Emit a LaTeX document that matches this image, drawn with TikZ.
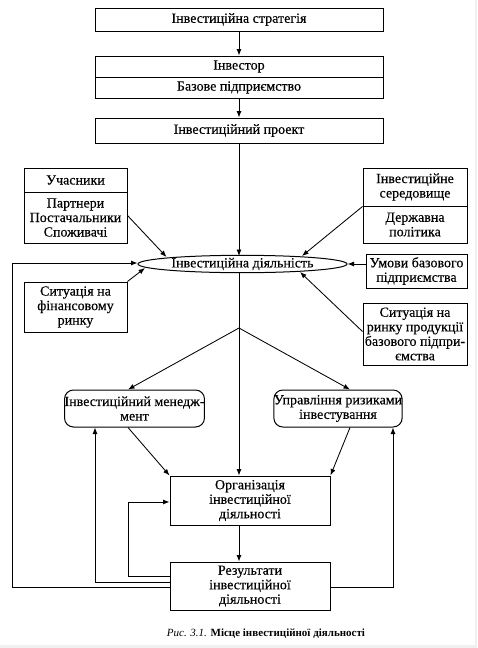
\documentclass[tikz,border=0pt]{standalone}
\usepackage{fontspec}
\setmainfont{Liberation Serif}
\newfontfamily\boxfont{Liberation Serif}[FakeBold=0.35]
\usetikzlibrary{arrows.meta,shapes.geometric,calc}
\begin{document}
\begin{tikzpicture}[x=1pt,y=-1pt,
  every node/.style={font=\boxfont\fontsize{14}{14.5}\selectfont, align=center, inner sep=0pt},
  box/.style={draw, line width=1pt, rectangle},
  rbox/.style={draw, line width=1pt, rectangle, rounded corners=9pt},
  arr/.style={-{Latex[length=6.5pt,width=5pt]}, line width=0.85pt},
  capstyle/.style={font=\fontsize{11}{12}\selectfont}]
\useasboundingbox (0,0) rectangle (477,648);
\fill[gray!12] (474.5,0) rectangle (477,648);
\fill[gray!12] (0,644.5) rectangle (477,648);

\node[box, minimum width=288, minimum height=23] (strat) at (239,19.5) {Інвестиційна стратегія};
\node[box, minimum width=288, minimum height=21] (inv1) at (239,66.5) {Інвестор};
\node[box, minimum width=288, minimum height=21] (inv2) at (239,87.5) {Базове підприємство};
\node[box, minimum width=288, minimum height=25] (proj) at (239,130.5) {Інвестиційний проект};

\node[box, minimum width=103, minimum height=24] (uch1) at (75.5,180) {Учасники};
\node[box, minimum width=103, minimum height=51] (uch2) at (75.5,217.5) {Партнери\\Постачальники\\Споживачі};
\node[box, minimum width=104, minimum height=38] (ser1) at (415,187) {Інвестиційне\\середовище};
\node[box, minimum width=104, minimum height=37] (ser2) at (415,224.5) {Державна\\політика};

\node[draw, line width=1pt, ellipse, minimum width=209, minimum height=16] (ell) at (242.5,264) {Інвестиційна діяльність};

\node[box, minimum width=101, minimum height=34] (umovy) at (416.5,271) {Умови базового\\підприємства};
\node[box, minimum width=103, minimum height=50] (sitfin) at (75.5,307) {Ситуація на\\фінансовому\\ринку};
\node[box, minimum width=104, minimum height=62] (sitrin) at (415,334) {Ситуація на\\ринку продукції\\базового підпри-\\ємства};

\node[rbox, minimum width=139, minimum height=37] (men) at (134.5,408.5) {Інвестиційний менедж-\\мент};
\node[rbox, minimum width=120, minimum height=37] (upr) at (338,408.5) {Управління ризиками\\інвестування};

\node[box, minimum width=160, minimum height=49] (org) at (250,500.5) {Організація\\інвестиційної\\діяльності};
\node[box, minimum width=160, minimum height=48] (rez) at (250,586) {Результати\\інвестиційної\\діяльності};

\node[capstyle] (cap) at (266,634) {{\rmfamily\itshape Рис. 3.1.} {\rmfamily\bfseries Місце інвестиційної діяльності}};

% main vertical flow
\draw[arr] (strat.south -| 239,0) -- (inv1.north -| 239,0);
\draw[arr] (inv2.south -| 239,0) -- (proj.north -| 239,0);
\draw[arr] (proj.south -| 239,0) -- ($(ell.center)+(-3.5,-8)$);
\draw[arr] ($(ell.center)+(-3.5,8)$) -- (org.north -| 239,0);
\draw[arr] (org.south -| 239,0) -- (rez.north -| 239,0);

% inputs to the ellipse
\draw[arr] ($(uch2.north east)+(0,24)$) -- ($(ell.center)+(-76,-7)$);
\draw[arr] ($(ser2.north west)+(0,1)$) -- ($(ell.center)+(59.5,-8)$);
\draw[arr] (umovy.west |- ell.east) -- (ell.east);
\draw[arr] (sitfin.north east) -- ($(ell.center)+(-97.5,4)$);
\draw[arr] ($(sitrin.north west)+(0,29)$) -- ($(ell.center)+(57.5,8)$);

% branches
\coordinate (br) at (239,328);
\draw[arr] (br) -- (men.north -| 128,0);
\draw[arr] (br) -- (upr.north -| 350,0);
\draw[arr] (men.south -| 128,0) -- (org.north west);
\draw[arr] (upr.south -| 350,0) -- (org.north east);

% feedback loops
\draw[arr] ($(rez.west)+(0,-10)$) -| (128,502) -- (org.west |- 0,502);
\draw[arr] ($(rez.west)+(0,-4)$) -| (men.south -| 95,0);
\draw[arr] ($(rez.west)+(0,1)$) -| (12,263) -- (ell.west |- 0,263);
\draw[arr] ($(rez.east)+(0,1)$) -| (upr.south -| 393,0);
\end{tikzpicture}
\end{document}
